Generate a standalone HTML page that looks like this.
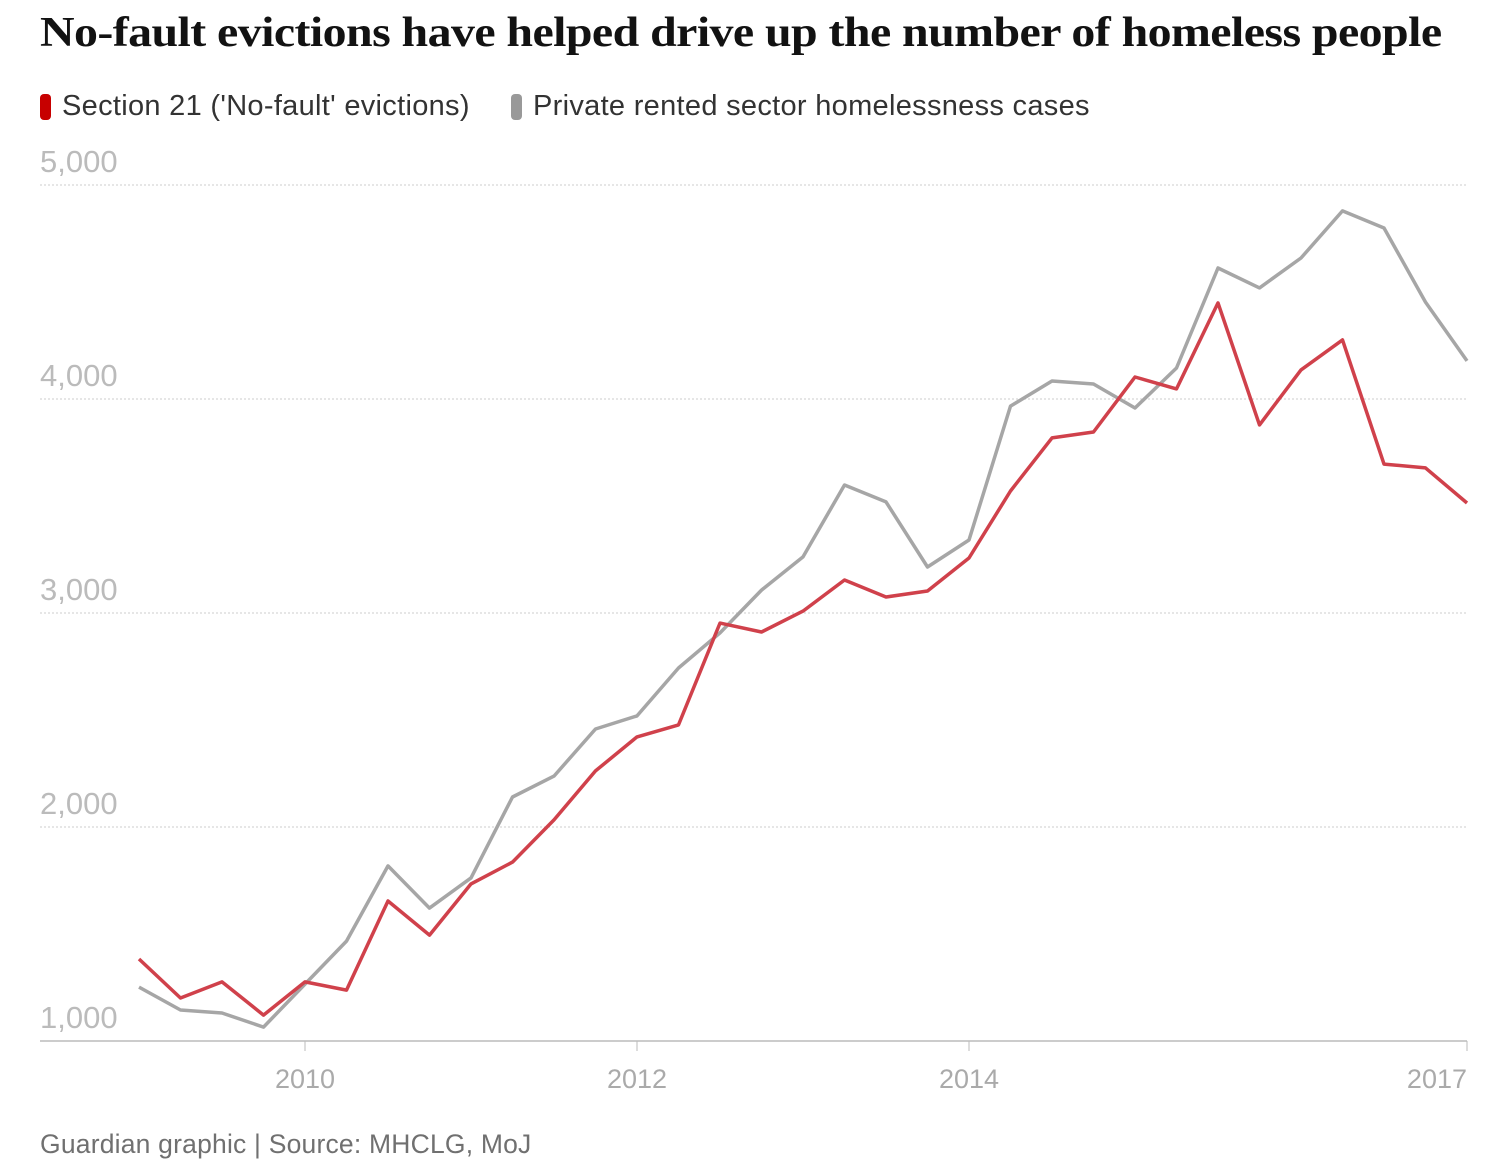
<!DOCTYPE html>
<html><head><meta charset="utf-8"><style>
body{margin:0;background:#fff;width:1485px;height:1170px;overflow:hidden;font-family:"Liberation Sans",sans-serif}
h1{position:absolute;left:40px;top:9px;margin:0;font:bold 42px "Liberation Serif",serif;color:#121212;letter-spacing:-0.5px;white-space:nowrap;transform:scaleX(1.14);transform-origin:left top}
.leg{position:absolute;top:90px;font-size:29px;letter-spacing:0.3px;color:#333;display:flex;align-items:center}
.sw{width:11px;height:26px;border-radius:4px;margin-right:11px}
.foot{position:absolute;left:40px;top:1129px;font-size:26.5px;letter-spacing:0.2px;color:#707070}
</style></head><body>
<h1>No-fault evictions have helped drive up the number of homeless people</h1>
<div class="leg" style="left:40px"><span class="sw" style="background:#c70000"></span>Section 21 ('No-fault' evictions)</div>
<div class="leg" style="left:511px"><span class="sw" style="background:#999"></span>Private rented sector homelessness cases</div>
<svg id="chart" width="1485" height="1170" style="position:absolute;left:0;top:0"></svg>
<div class="foot">Guardian graphic | Source: MHCLG, MoJ</div>
<script>
const startYear=2009;
const section21=[1383,1201,1276,1121,1276,1238,1654,1495,1734,1836,2033,2262,2421,2477,2953,2911,3009,3154,3075,3103,3257,3570,3818,3846,4103,4047,4449,3879,4136,4276,3696,3678,3514];
const homeless=[1252,1145,1131,1065,1266,1467,1818,1621,1762,2140,2238,2458,2519,2743,2907,3107,3262,3598,3519,3215,3341,3967,4084,4070,3958,4145,4612,4519,4659,4879,4799,4453,4178];
const yTicks=[1000,2000,3000,4000,5000];
const xTicks=[2010,2012,2014,2017];
const NS="http://www.w3.org/2000/svg";
const svg=document.getElementById('chart');
const x=t=>305+(t-2010)*166;
const y=v=>1041-(v-1000)*0.214;
function mk(tag,attrs){const e=document.createElementNS(NS,tag);for(const k in attrs)e.setAttribute(k,attrs[k]);svg.appendChild(e);return e;}
yTicks.forEach(v=>{
 if(v>1000){const l=mk('line',{x1:40,x2:1467,y1:y(v),y2:y(v),stroke:'#ccc','stroke-dasharray':'2,2'});
 
 }
 const t=mk('text',{x:40,y:y(v)-13,'font-size':31,fill:'#bbb','font-family':'Liberation Sans'});t.textContent=v.toLocaleString('en-US');
 
 
});
const ax=mk('line',{x1:40,x2:1467,y1:1041,y2:1041,stroke:'#bbb','stroke-width':1.5});


xTicks.forEach(yr=>{
 const tk=mk('line',{x1:x(yr),x2:x(yr),y1:1041,y2:1051,stroke:'#bbb'});
 
 
 const t=mk('text',{x:yr===2017?1467:x(yr),y:1088,'font-size':27,fill:'#aaa','text-anchor':yr===2017?'end':'middle','font-family':'Liberation Sans'});t.textContent=yr;
 
 
});
function line(data,color,name){
 const d=data.map((v,i)=>(i?'L':'M')+x(startYear+i/4).toFixed(1)+','+y(v).toFixed(1)).join('');
 const p=mk('path',{d:d,fill:'none',stroke:color,'stroke-width':3.5,'stroke-linejoin':'round'});
 
 
}
line(homeless,'#a6a6a6','homelessness-line');
line(section21,'#d0414b','section21-line');
</script>
</body></html>
